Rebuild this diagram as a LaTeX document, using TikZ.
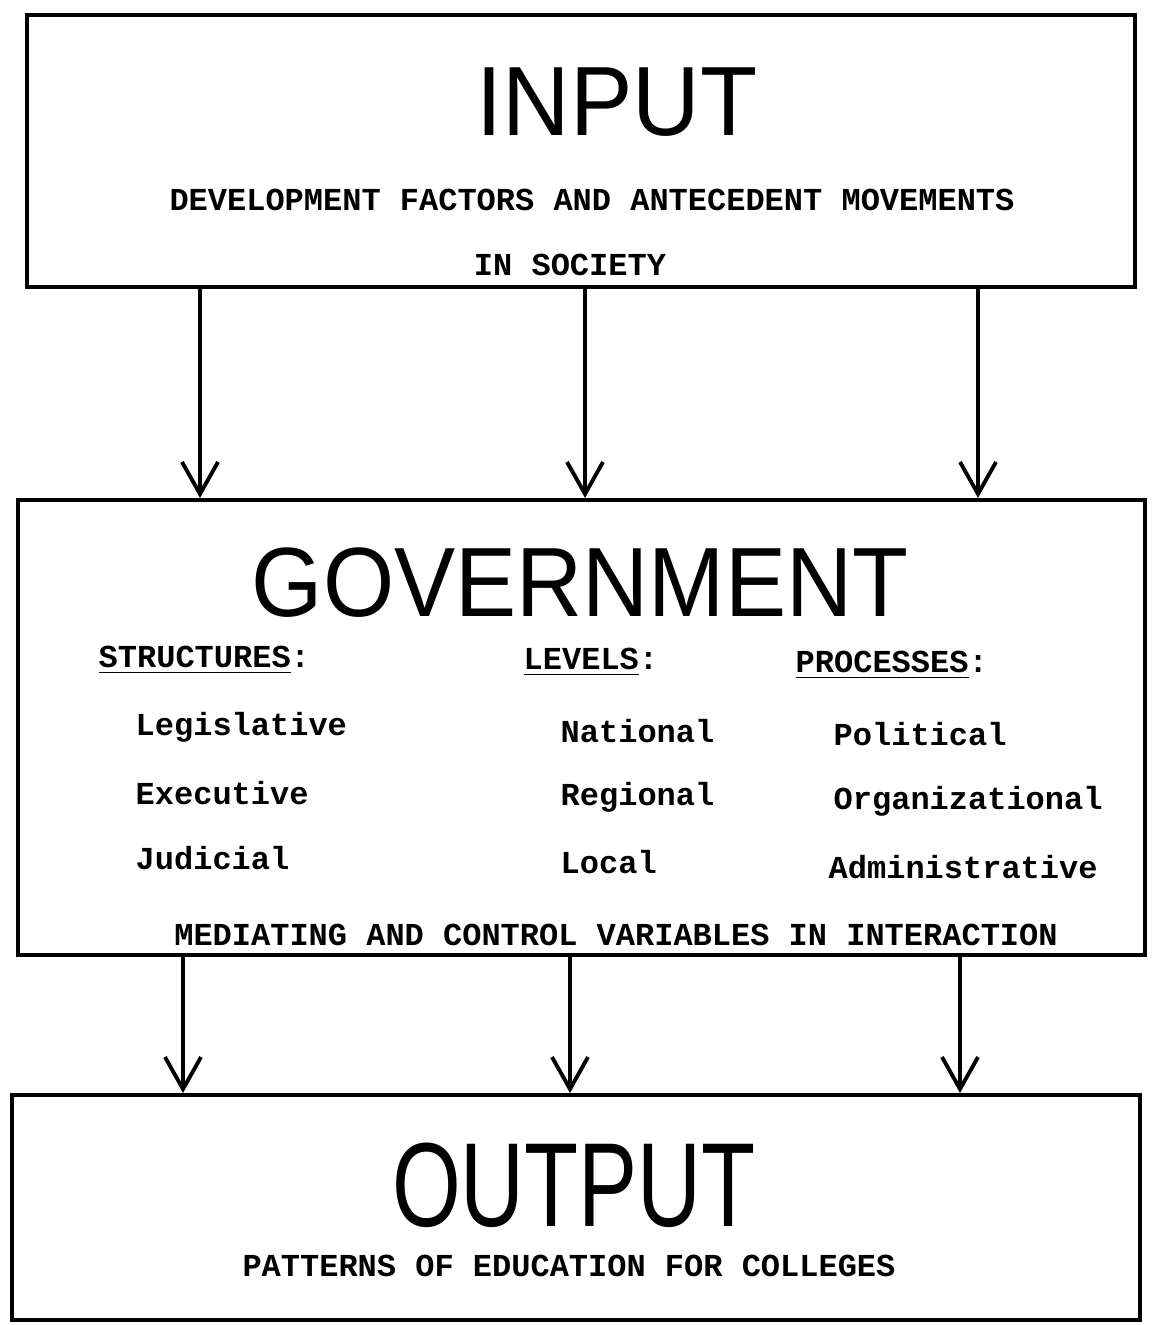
\documentclass[tikz,border=0pt]{standalone}
\usepackage{fontspec}
\setmainfont{Liberation Serif}
\setsansfont{Liberation Sans}
\setmonofont{Liberation Mono}
\usetikzlibrary{arrows.meta,calc}
\tikzset{
  box/.style={draw, line width=1.1pt, inner sep=0pt},
  flow/.style={line width=1.1pt, -{Straight Barb[length=3.2mm, width=3.6mm, line width=1.1pt]}},
  title/.style={font=\sffamily\fontsize{28}{30}\selectfont},
  tw/.style={font=\ttfamily\bfseries\fontsize{9.1}{11}\selectfont},
  item/.style={tw, anchor=west, inner sep=0pt}
}
\begin{document}
\begin{tikzpicture}[x=0.01cm, y=-0.01cm]
  \useasboundingbox (0,0) rectangle (1162,1325);
  \node[box, minimum width=11.07cm, minimum height=2.72cm] (inbox) at (581,151) {};
  \node[box, minimum width=11.27cm, minimum height=4.55cm] (govbox) at (581.5,727.5) {};
  \node[box, minimum width=11.28cm, minimum height=2.25cm] (outbox) at (576,1207.5) {};
  \node[title, xscale=0.95] (input) at (617,102) {INPUT};
  \node[tw] (dev) at (592,200) {DEVELOPMENT FACTORS AND ANTECEDENT MOVEMENTS};
  \node[tw] (soc) at (570,265) {IN SOCIETY};
  \node[title, xscale=0.93] (gov) at (580,583) {GOVERNMENT};
  \node[item] (struct) at (98,660) {\underline{STRUCTURES}:};
  \node[item] (lev) at (523,662) {\underline{LEVELS}:};
  \node[item] (proc) at (795,665) {\underline{PROCESSES}:};
  \node[item] (leg) at (135,727) {Legislative};
  \node[item] (exe) at (135,793) {Executive};
  \node[item] (jud) at (135,858) {Judicial};
  \node[item] (nat) at (560,731) {National};
  \node[item] (reg) at (560,797) {Regional};
  \node[item] (loc) at (560,862) {Local};
  \node[item] (pol) at (833,734) {Political};
  \node[item] (org) at (833,801) {Organizational};
  \node[item] (adm) at (828,867) {Administrative};
  \node[tw] (med) at (616,935) {MEDIATING AND CONTROL VARIABLES IN INTERACTION};
  \node[title, font=\sffamily\fontsize{34}{36}\selectfont, xscale=0.74] (out) at (574,1185) {OUTPUT};
  \node[tw] (pat) at (569,1266) {PATTERNS OF EDUCATION FOR COLLEGES};
  \foreach \xa/\xb in {200/183, 585/570, 978/960}{
    \draw[flow] (inbox.south -| \xa,0) -- (govbox.north -| \xa,0);
    \draw[flow] (govbox.south -| \xb,0) -- (outbox.north -| \xb,0);
  }
\end{tikzpicture}
\end{document}
